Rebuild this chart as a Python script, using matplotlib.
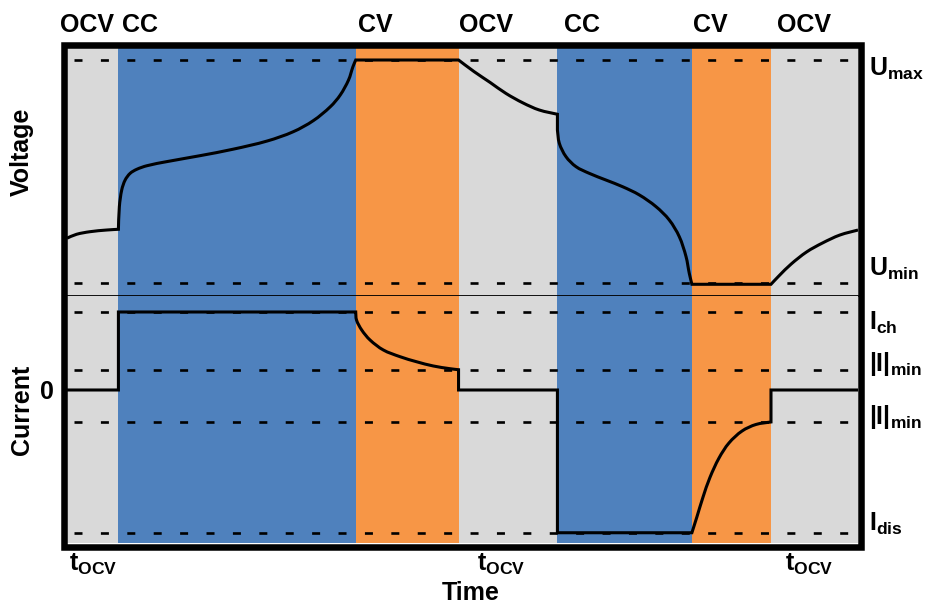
import numpy as np
import matplotlib
matplotlib.use("Agg")
import matplotlib.pyplot as plt
from matplotlib.patches import Rectangle, PathPatch
from matplotlib.path import Path
from matplotlib.transforms import blended_transform_factory, offset_copy

plt.rcParams["font.family"] = ["Liberation Sans", "DejaVu Sans"]
plt.rcParams["font.weight"] = "bold"
plt.rcParams["mathtext.fontset"] = "custom"
plt.rcParams["mathtext.rm"] = "Liberation Sans:bold"
plt.rcParams["mathtext.it"] = "Liberation Sans:bold"
plt.rcParams["mathtext.bf"] = "Liberation Sans:bold"
plt.rcParams["lines.scale_dashes"] = False

# ---- protocol phases (time in arbitrary units) ----
phase_names = ["OCV", "CC", "CV", "OCV", "CC", "CV", "OCV"]
phase_durations = [6.5, 30.0, 13.0, 12.5, 17.0, 10.0, 11.0]
phase_colors = {"OCV": "#D9D9D9", "CC": "#4F81BD", "CV": "#F79646"}

# ---- limits ----
u_max, u_min = 4.2, 3.0
i_ch, i_min_ch, i_min_dis, i_dis = 1.0, 0.26, -0.41, -1.83

# ---- voltage trace, segment by segment ----
ocv1_t = [0.0, 1.2, 2.9, 5.0, 6.5]
ocv1_u = [3.241, 3.262, 3.276, 3.285, 3.289]

cc_ch_t = [6.5, 6.62, 6.92, 7.35, 7.98, 8.83, 10.1, 12.6, 16.8, 21.0,
           25.3, 28.6, 31.15, 33.3, 34.55, 35.6, 36.15, 36.5]
cc_ch_u = [3.289, 3.411, 3.501, 3.554, 3.590, 3.612, 3.631, 3.653, 3.685, 3.720,
           3.764, 3.814, 3.874, 3.949, 4.012, 4.093, 4.164, 4.2]

cv_ch_u = 4.2

ocv2_t = [49.5, 51.45, 53.5, 55.5, 57.65, 59.7, 62.0]
ocv2_u = [4.2, 4.138, 4.079, 4.020, 3.969, 3.931, 3.908]

cc_dis_t = [62.0, 62.0, 62.24, 63.08, 64.35, 66.03, 68.14, 70.25, 72.35,
            74.46, 76.14, 77.41, 78.26, 78.67, 79.0]
cc_dis_u = [3.908, 3.823, 3.752, 3.680, 3.626, 3.590, 3.554, 3.518, 3.474,
            3.411, 3.339, 3.249, 3.142, 3.052, 2.993]

cv_dis_u = 2.993

ocv3_t = [89.0, 90.0, 91.55, 93.5, 95.5, 97.7, 100.0]
ocv3_u = [2.993, 3.038, 3.102, 3.167, 3.215, 3.258, 3.285]

# ---- current during the CV phases ----
cv_ch_t = [36.5, 36.6, 37.26, 38.31, 39.99, 42.1, 44.2, 46.3, 48.42, 49.5]
cv_ch_i = [1.0, 0.897, 0.769, 0.641, 0.513, 0.427, 0.362, 0.308, 0.273, 0.26]

cv_dis_t = [79.0, 79.63, 80.39, 81.28, 82.43, 83.69, 85.34, 87.1, 89.0]
cv_dis_i = [-1.83, -1.628, -1.378, -1.122, -0.872, -0.679, -0.526, -0.442, -0.41]

# ---- labels ----
level_labels_u = [(u_max, r"$\mathrm{U}_{\mathrm{max}}$", -16),
                  (u_min, r"$\mathrm{U}_{\mathrm{min}}$", 7)]
level_labels_i = [(i_ch, r"$\mathrm{I}_{\mathrm{ch}}$", -18),
                  (i_min_ch, r"$\mathrm{|I|}_{\mathrm{min}}$", -1),
                  (i_min_dis, r"$\mathrm{|I|}_{\mathrm{min}}$", -2),
                  (i_dis, r"$\mathrm{I}_{\mathrm{dis}}$", 2)]
phase_label_dx = [-7, 4, 2, 0, 7, 1, 6]
tocv_dx = [0, -7, -5]

edges = np.concatenate([[0.0], np.cumsum(phase_durations)])


def trace_path(ax, segments):
    """Build one path from (x, y, smooth) pieces. Smooth pieces are drawn as
    chord-weighted Catmull-Rom Bezier curves through the given points (chord
    lengths measured on screen), the others as polylines."""
    verts, codes = [], []
    for xs, ys, smooth in segments:
        p = np.column_stack([xs, ys]).astype(float)
        if not verts:
            verts.append(p[0])
            codes.append(Path.MOVETO)
        elif not np.allclose(verts[-1], p[0]):
            verts.append(p[0])
            codes.append(Path.LINETO)
        if smooth and len(p) > 2:
            s = ax.transData.transform(p)
            seg_len = np.hypot(*np.diff(s, axis=0).T)
            n = len(p)
            tang = np.array([p[min(k + 1, n - 1)] - p[max(k - 1, 0)]
                             for k in range(n)])
            for k in range(n - 1):
                d = seg_len[k]
                d_prev = seg_len[k - 1] if k > 0 else d
                d_next = seg_len[k + 1] if k + 1 < n - 1 else d
                c1 = p[k] + tang[k] * d / (d_prev + d) / 3.0
                c2 = p[k + 1] - tang[k + 1] * d / (d + d_next) / 3.0
                verts += [c1, c2, p[k + 1]]
                codes += [Path.CURVE4] * 3
        else:
            for q in p[1:]:
                verts.append(q)
                codes.append(Path.LINETO)
    return Path(np.array(verts), codes)


volt_segments = [
    (ocv1_t, ocv1_u, True),
    (cc_ch_t, cc_ch_u, True),
    ([edges[2], edges[3]], [cv_ch_u, cv_ch_u], False),
    (ocv2_t, ocv2_u, True),
    (cc_dis_t[:2], cc_dis_u[:2], False),
    (cc_dis_t[1:], cc_dis_u[1:], True),
    ([edges[5], edges[6]], [cv_dis_u, cv_dis_u], False),
    (ocv3_t, ocv3_u, True),
]
cur_segments = [
    ([edges[0], edges[1], edges[1], edges[2]], [0, 0, i_ch, i_ch], False),
    (cv_ch_t, cv_ch_i, True),
    ([edges[3], edges[3], edges[4], edges[4], edges[5]],
     [i_min_ch, 0, 0, i_dis, i_dis], False),
    (cv_dis_t, cv_dis_i, True),
    ([edges[6], edges[6], edges[7]], [i_min_dis, 0, 0], False),
]

W, H = 926, 604
fig = plt.figure(figsize=(W / 100, H / 100), dpi=100)
fig.patch.set_facecolor("white")

x0, x1 = 67, 858
ax_u = fig.add_axes([x0 / W, (H - 296) / H, (x1 - x0) / W, (296 - 48) / H])
ax_i = fig.add_axes([x0 / W, (H - 543) / H, (x1 - x0) / W, (543 - 296) / H],
                    sharex=ax_u)

ax_u.set_ylim(2.930, 4.2646)
ax_i.set_ylim(-1.9615, 1.205)
ax_u.set_xlim(0, 100)

for ax in (ax_u, ax_i):
    for k, name in enumerate(phase_names):
        ax.axvspan(edges[k], edges[k + 1], color=phase_colors[name], lw=0, zorder=0)
    ax.set_xticks([])
    ax.set_yticks([])
    for s in ax.spines.values():
        s.set_visible(False)

ax_u.spines["bottom"].set_visible(True)
ax_u.spines["bottom"].set_linewidth(1.3)
ax_u.spines["bottom"].set_zorder(5)

dash_kw = dict(color="black", lw=1.9, dashes=(5.76, 13.25),
               xmin=7 / 791, xmax=781 / 791, zorder=2)
for lvl in (u_max, u_min):
    ax_u.axhline(lvl, **dash_kw)
for lvl in (i_ch, i_min_ch, i_min_dis, i_dis):
    ax_i.axhline(lvl, **dash_kw)

for ax, segs in ((ax_u, volt_segments), (ax_i, cur_segments)):
    ax.add_patch(PathPatch(trace_path(ax, segs), fill=False, ec="black", lw=2.2,
                           joinstyle="miter", capstyle="butt", zorder=3))

fs = 18

# phase names above the frame
top_tr = blended_transform_factory(ax_u.transData, fig.transFigure)
for k, name in enumerate(phase_names):
    tr = offset_copy(top_tr, fig=fig, x=phase_label_dx[k], y=0, units="dots")
    fig.text(edges[k], (H - 32) / H, name, transform=tr, fontsize=fs,
             fontweight="bold", ha="left", va="baseline")

# level labels to the right of the frame
for ax, labels in ((ax_u, level_labels_u), (ax_i, level_labels_i)):
    base = blended_transform_factory(ax.transAxes, ax.transData)
    for lvl, txt, dy in labels:
        tr = offset_copy(base, fig=fig, x=11, y=dy, units="dots")
        ax.text(1.0, lvl, txt, transform=tr, fontsize=fs, ha="left",
                va="baseline", clip_on=False)

# rest durations under the frame
ocv_idx = [k for k, n in enumerate(phase_names) if n == "OCV"]
for j, k in enumerate(ocv_idx):
    tr = offset_copy(top_tr, fig=fig, x=tocv_dx[j], y=0, units="dots")
    fig.text((edges[k] + edges[k + 1]) / 2, (H - 571) / H,
             r"$\mathrm{t}_{\mathrm{OCV}}$", transform=tr, fontsize=fs,
             ha="center", va="baseline")

fig.text(471 / W, (H - 600) / H, "Time", fontsize=fs, fontweight="bold",
         ha="center", va="baseline")
fig.text(22 / W, (H - 152) / H, "Voltage", fontsize=fs, fontweight="bold",
         rotation=90, ha="center", va="center")
fig.text(22 / W, (H - 410) / H, "Current", fontsize=fs, fontweight="bold",
         rotation=90, ha="center", va="center")

zero_tr = offset_copy(blended_transform_factory(fig.transFigure, ax_i.transData),
                      fig=fig, x=0, y=-9.5, units="dots")
fig.text(54 / W, 0.0, "0", transform=zero_tr, fontsize=fs, fontweight="bold",
         ha="right", va="baseline")

frame = Rectangle((63.5 / W, (H - 547) / H), 797 / W, 502 / H,
                  transform=fig.transFigure, fill=False, lw=4.7,
                  ec="black", zorder=10, joinstyle="miter")
fig.add_artist(frame)

fig.savefig("out.png", dpi=100)
